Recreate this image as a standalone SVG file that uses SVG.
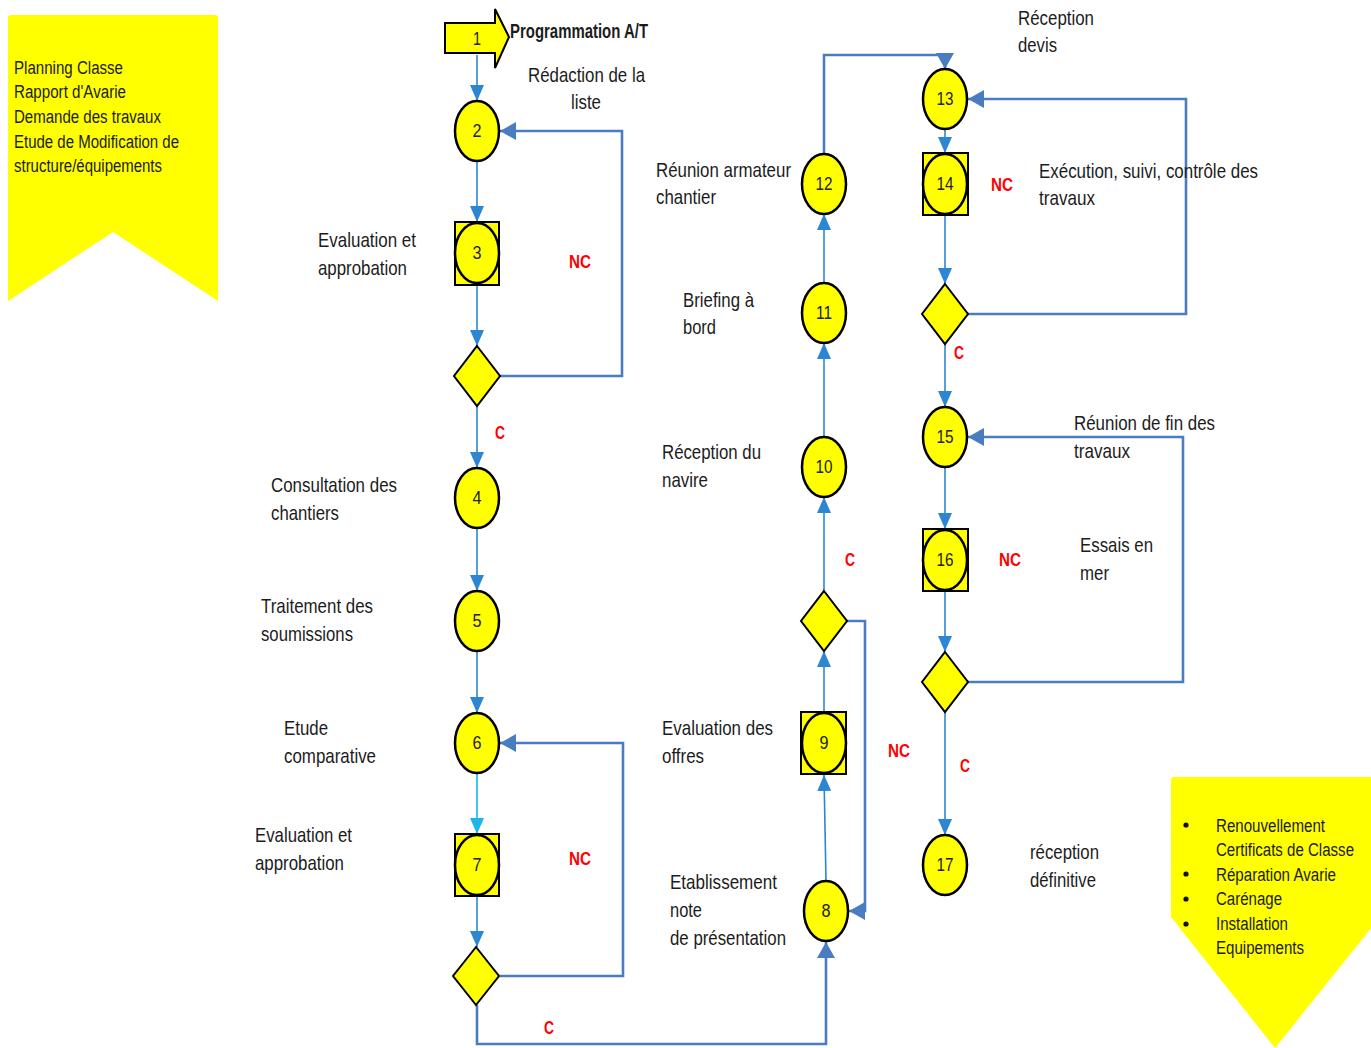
<svg xmlns="http://www.w3.org/2000/svg" width="1371" height="1048" viewBox="0 0 1371 1048">
  <style>
    .t { font-family: "Liberation Sans", Arial, sans-serif; font-size: 21px; fill: #1c1c1c; }
    .b { font-family: "Liberation Sans", Arial, sans-serif; font-size: 18px; fill: #1c1c1c; }
    .num { font-family: "Liberation Sans", Arial, sans-serif; font-size: 18px; fill: #222; text-anchor: middle; }
    .nc { font-family: "Liberation Sans", Arial, sans-serif; font-size: 18px; font-weight: bold; fill: #ff0000; }
    .node { fill: #ffff00; stroke: #000; stroke-width: 2.5; }
    .box { fill: #ffff00; stroke: #000; stroke-width: 2; }
    .banner { fill: #ffff00; }
    .flow { fill: none; stroke: #2d86d2; stroke-width: 1.6; marker-end: url(#ah); }
    .flowc { fill: none; stroke: #1cb6ec; stroke-width: 1.6; marker-end: url(#ahc); }
    .loop { fill: none; stroke: #4a7cc2; stroke-width: 2.6; marker-end: url(#al); }
  </style>
  <defs>
    <marker id="ah" markerUnits="userSpaceOnUse" markerWidth="16" markerHeight="14" refX="16" refY="7" orient="auto">
      <path d="M0,0 L16,7 L0,14 z" fill="#2d86d2"/>
    </marker>
    <marker id="ahc" markerUnits="userSpaceOnUse" markerWidth="16" markerHeight="14" refX="16" refY="7" orient="auto">
      <path d="M0,0 L16,7 L0,14 z" fill="#1cb6ec"/>
    </marker>
    <marker id="al" markerUnits="userSpaceOnUse" markerWidth="16" markerHeight="18" refX="16" refY="9" orient="auto">
      <path d="M0,0 L16,9 L0,18 z" fill="#4a7cc2"/>
    </marker>
  </defs>

  <!-- input banner -->
  <g id="banner-inputs">
    <path class="banner" d="M11,15 L215,15 Q218,15 218,18 L218,301 L113,232 L8,301 L8,18 Q8,15 11,15 z"/>
    <text class="b" x="14" y="74" textLength="109" lengthAdjust="spacingAndGlyphs">Planning Classe</text>
    <text class="b" x="14" y="98" textLength="112" lengthAdjust="spacingAndGlyphs">Rapport d'Avarie</text>
    <text class="b" x="14" y="123" textLength="147" lengthAdjust="spacingAndGlyphs">Demande des travaux</text>
    <text class="b" x="14" y="148" textLength="165" lengthAdjust="spacingAndGlyphs">Etude de Modification de</text>
    <text class="b" x="14" y="172" textLength="148" lengthAdjust="spacingAndGlyphs">structure/équipements</text>
  </g>

  <!-- output banner -->
  <g id="banner-outputs">
    <path class="banner" d="M1174,777 L1380,777 L1380,917 L1275,1048 L1171,917 L1171,780 Q1171,777 1174,777 z"/>
    <circle cx="1186" cy="825" r="2.6" fill="#111"/>
    <circle cx="1186" cy="874" r="2.6" fill="#111"/>
    <circle cx="1186" cy="899" r="2.6" fill="#111"/>
    <circle cx="1186" cy="924" r="2.6" fill="#111"/>
    <text class="b" x="1216" y="832" textLength="109" lengthAdjust="spacingAndGlyphs">Renouvellement</text>
    <text class="b" x="1216" y="856" textLength="138" lengthAdjust="spacingAndGlyphs">Certificats de Classe</text>
    <text class="b" x="1216" y="881" textLength="120" lengthAdjust="spacingAndGlyphs">Réparation Avarie</text>
    <text class="b" x="1216" y="905" textLength="66" lengthAdjust="spacingAndGlyphs">Carénage</text>
    <text class="b" x="1216" y="930" textLength="72" lengthAdjust="spacingAndGlyphs">Installation</text>
    <text class="b" x="1216" y="954" textLength="88" lengthAdjust="spacingAndGlyphs">Equipements</text>
  </g>

  <!-- connectors -->
  <g id="connectors">
    <path class="flow" d="M477,55 L477,101"/>
    <path class="flow" d="M477,161 L477,222"/>
    <path class="flow" d="M477,285 L477,346"/>
    <path class="flow" d="M477,406 L477,468"/>
    <path class="flow" d="M477,528 L477,591"/>
    <path class="flow" d="M477,651 L477,713"/>
    <path class="flowc" d="M477,773 L477,834"/>
    <path class="flow" d="M477,896 L477,947"/>
    <path class="loop" d="M500,376 L622,376 L622,131 L500,131"/>
    <path class="loop" d="M500,976 L623,976 L623,743 L500,743"/>
    <path class="loop" d="M477,1005 L477,1044 L826,1044 L826,942"/>

    <path class="flow" d="M826,881 L824,775"/>
    <path class="flow" d="M824,712 L824,651"/>
    <path class="flow" d="M824,590 L824,497"/>
    <path class="flow" d="M824,437 L824,343"/>
    <path class="flow" d="M824,283 L824,214"/>
    <path class="loop" d="M824,154 L824,55 L945,55 L945,69"/>
    <path class="loop" d="M847,621 L865,621 L865,911 L849,911"/>

    <path class="flow" d="M945,129 L945,153"/>
    <path class="flow" d="M945,215 L945,284"/>
    <path class="flow" d="M945,344 L945,407"/>
    <path class="flow" d="M945,467 L945,529"/>
    <path class="flow" d="M945,591 L945,652"/>
    <path class="flow" d="M945,712 L945,835"/>
    <path class="loop" d="M968,314 L1186,314 L1186,99 L968,99"/>
    <path class="loop" d="M968,682 L1183,682 L1183,437 L968,437"/>
  </g>

  <!-- connector labels -->
  <g id="labels">
    <text class="nc" x="569" y="268" textLength="22" lengthAdjust="spacingAndGlyphs">NC</text>
    <text class="nc" x="495" y="439" textLength="10" lengthAdjust="spacingAndGlyphs">C</text>
    <text class="nc" x="569" y="865" textLength="22" lengthAdjust="spacingAndGlyphs">NC</text>
    <text class="nc" x="544" y="1034" textLength="10" lengthAdjust="spacingAndGlyphs">C</text>
    <text class="nc" x="845" y="566" textLength="10" lengthAdjust="spacingAndGlyphs">C</text>
    <text class="nc" x="888" y="757" textLength="22" lengthAdjust="spacingAndGlyphs">NC</text>
    <text class="nc" x="991" y="191" textLength="22" lengthAdjust="spacingAndGlyphs">NC</text>
    <text class="nc" x="954" y="359" textLength="10" lengthAdjust="spacingAndGlyphs">C</text>
    <text class="nc" x="999" y="566" textLength="22" lengthAdjust="spacingAndGlyphs">NC</text>
    <text class="nc" x="960" y="772" textLength="10" lengthAdjust="spacingAndGlyphs">C</text>
  </g>

  <!-- step 1 -->
  <g id="n1">
    <path class="box" d="M445,23 L495,23 L495,9 L509,37 L495,68 L495,53 L445,53 z"/>
    <text class="num" x="477" y="45" textLength="8" lengthAdjust="spacingAndGlyphs">1</text>
    <text class="t" x="510" y="38" font-weight="bold" font-size="18" textLength="138" lengthAdjust="spacingAndGlyphs">Programmation A/T</text>
  </g>
  <g id="n2">
    <ellipse class="node" cx="477" cy="131" rx="22" ry="30"/>
    <text class="num" x="477" y="137" textLength="9" lengthAdjust="spacingAndGlyphs">2</text>
    <text class="t" x="528" y="82" textLength="117" lengthAdjust="spacingAndGlyphs">Rédaction de la</text>
    <text class="t" x="571" y="109" textLength="30" lengthAdjust="spacingAndGlyphs">liste</text>
  </g>
  <g id="n3">
    <rect class="box" x="455" y="222" width="44" height="63"/>
    <ellipse class="node" cx="477" cy="253" rx="22" ry="30"/>
    <text class="num" x="477" y="259" textLength="9" lengthAdjust="spacingAndGlyphs">3</text>
    <text class="t" x="318" y="247" textLength="98" lengthAdjust="spacingAndGlyphs">Evaluation et</text>
    <text class="t" x="318" y="275" textLength="89" lengthAdjust="spacingAndGlyphs">approbation</text>
  </g>
  <g id="d1">
    <path class="box" d="M477,346 L500,376 L477,406 L454,376 z"/>
  </g>
  <g id="n4">
    <ellipse class="node" cx="477" cy="498" rx="22" ry="30"/>
    <text class="num" x="477" y="504" textLength="9" lengthAdjust="spacingAndGlyphs">4</text>
    <text class="t" x="271" y="492" textLength="126" lengthAdjust="spacingAndGlyphs">Consultation des</text>
    <text class="t" x="271" y="520" textLength="68" lengthAdjust="spacingAndGlyphs">chantiers</text>
  </g>
  <g id="n5">
    <ellipse class="node" cx="477" cy="621" rx="22" ry="30"/>
    <text class="num" x="477" y="627" textLength="9" lengthAdjust="spacingAndGlyphs">5</text>
    <text class="t" x="261" y="613" textLength="112" lengthAdjust="spacingAndGlyphs">Traitement des</text>
    <text class="t" x="261" y="641" textLength="92" lengthAdjust="spacingAndGlyphs">soumissions</text>
  </g>
  <g id="n6">
    <ellipse class="node" cx="477" cy="743" rx="22" ry="30"/>
    <text class="num" x="477" y="749" textLength="9" lengthAdjust="spacingAndGlyphs">6</text>
    <text class="t" x="284" y="735" textLength="44" lengthAdjust="spacingAndGlyphs">Etude</text>
    <text class="t" x="284" y="763" textLength="92" lengthAdjust="spacingAndGlyphs">comparative</text>
  </g>
  <g id="n7">
    <rect class="box" x="455" y="834" width="44" height="62"/>
    <ellipse class="node" cx="477" cy="865" rx="22" ry="30"/>
    <text class="num" x="477" y="871" textLength="9" lengthAdjust="spacingAndGlyphs">7</text>
    <text class="t" x="255" y="842" textLength="97" lengthAdjust="spacingAndGlyphs">Evaluation et</text>
    <text class="t" x="255" y="870" textLength="89" lengthAdjust="spacingAndGlyphs">approbation</text>
  </g>
  <g id="d2">
    <path class="box" d="M476,947 L499,976 L476,1005 L453,976 z"/>
  </g>

  <g id="n8">
    <ellipse class="node" cx="826" cy="911" rx="22" ry="30"/>
    <text class="num" x="826" y="917" textLength="9" lengthAdjust="spacingAndGlyphs">8</text>
    <text class="t" x="670" y="889" textLength="107" lengthAdjust="spacingAndGlyphs">Etablissement</text>
    <text class="t" x="670" y="917" textLength="32" lengthAdjust="spacingAndGlyphs">note</text>
    <text class="t" x="670" y="945" textLength="116" lengthAdjust="spacingAndGlyphs">de présentation</text>
  </g>
  <g id="n9">
    <rect class="box" x="801" y="712" width="45" height="62"/>
    <ellipse class="node" cx="824" cy="743" rx="22" ry="30"/>
    <text class="num" x="824" y="749" textLength="9" lengthAdjust="spacingAndGlyphs">9</text>
    <text class="t" x="662" y="735" textLength="111" lengthAdjust="spacingAndGlyphs">Evaluation des</text>
    <text class="t" x="662" y="763" textLength="42" lengthAdjust="spacingAndGlyphs">offres</text>
  </g>
  <g id="d3">
    <path class="box" d="M824,591 L847,621 L824,651 L801,621 z"/>
  </g>
  <g id="n10">
    <ellipse class="node" cx="824" cy="467" rx="22" ry="30"/>
    <text class="num" x="824" y="473" textLength="17" lengthAdjust="spacingAndGlyphs">10</text>
    <text class="t" x="662" y="459" textLength="99" lengthAdjust="spacingAndGlyphs">Réception du</text>
    <text class="t" x="662" y="487" textLength="46" lengthAdjust="spacingAndGlyphs">navire</text>
  </g>
  <g id="n11">
    <ellipse class="node" cx="824" cy="313" rx="22" ry="30"/>
    <text class="num" x="824" y="319" textLength="16" lengthAdjust="spacingAndGlyphs">11</text>
    <text class="t" x="683" y="307" textLength="71" lengthAdjust="spacingAndGlyphs">Briefing à</text>
    <text class="t" x="683" y="334" textLength="33" lengthAdjust="spacingAndGlyphs">bord</text>
  </g>
  <g id="n12">
    <ellipse class="node" cx="824" cy="184" rx="22" ry="30"/>
    <text class="num" x="824" y="190" textLength="17" lengthAdjust="spacingAndGlyphs">12</text>
    <text class="t" x="656" y="177" textLength="135" lengthAdjust="spacingAndGlyphs">Réunion armateur</text>
    <text class="t" x="656" y="204" textLength="60" lengthAdjust="spacingAndGlyphs">chantier</text>
  </g>

  <g id="n13">
    <ellipse class="node" cx="945" cy="99" rx="22" ry="30"/>
    <text class="num" x="945" y="105" textLength="17" lengthAdjust="spacingAndGlyphs">13</text>
    <text class="t" x="1018" y="25" textLength="76" lengthAdjust="spacingAndGlyphs">Réception</text>
    <text class="t" x="1018" y="52" textLength="39" lengthAdjust="spacingAndGlyphs">devis</text>
  </g>
  <g id="n14">
    <rect class="box" x="923" y="153" width="45" height="62"/>
    <ellipse class="node" cx="945" cy="184" rx="22" ry="30"/>
    <text class="num" x="945" y="190" textLength="17" lengthAdjust="spacingAndGlyphs">14</text>
    <text class="t" x="1039" y="178" textLength="219" lengthAdjust="spacingAndGlyphs">Exécution, suivi, contrôle des</text>
    <text class="t" x="1039" y="205" textLength="56" lengthAdjust="spacingAndGlyphs">travaux</text>
  </g>
  <g id="d4">
    <path class="box" d="M945,284 L968,314 L945,344 L922,314 z"/>
  </g>
  <g id="n15">
    <ellipse class="node" cx="945" cy="437" rx="22" ry="30"/>
    <text class="num" x="945" y="443" textLength="17" lengthAdjust="spacingAndGlyphs">15</text>
    <text class="t" x="1074" y="430" textLength="141" lengthAdjust="spacingAndGlyphs">Réunion de fin des</text>
    <text class="t" x="1074" y="458" textLength="56" lengthAdjust="spacingAndGlyphs">travaux</text>
  </g>
  <g id="n16">
    <rect class="box" x="923" y="529" width="45" height="62"/>
    <ellipse class="node" cx="945" cy="560" rx="22" ry="30"/>
    <text class="num" x="945" y="566" textLength="17" lengthAdjust="spacingAndGlyphs">16</text>
    <text class="t" x="1080" y="552" textLength="73" lengthAdjust="spacingAndGlyphs">Essais en</text>
    <text class="t" x="1080" y="580" textLength="29" lengthAdjust="spacingAndGlyphs">mer</text>
  </g>
  <g id="d5">
    <path class="box" d="M945,652 L968,682 L945,712 L922,682 z"/>
  </g>
  <g id="n17">
    <ellipse class="node" cx="945" cy="865" rx="22" ry="30"/>
    <text class="num" x="945" y="871" textLength="17" lengthAdjust="spacingAndGlyphs">17</text>
    <text class="t" x="1030" y="859" textLength="69" lengthAdjust="spacingAndGlyphs">réception</text>
    <text class="t" x="1030" y="887" textLength="66" lengthAdjust="spacingAndGlyphs">définitive</text>
  </g>
</svg>
